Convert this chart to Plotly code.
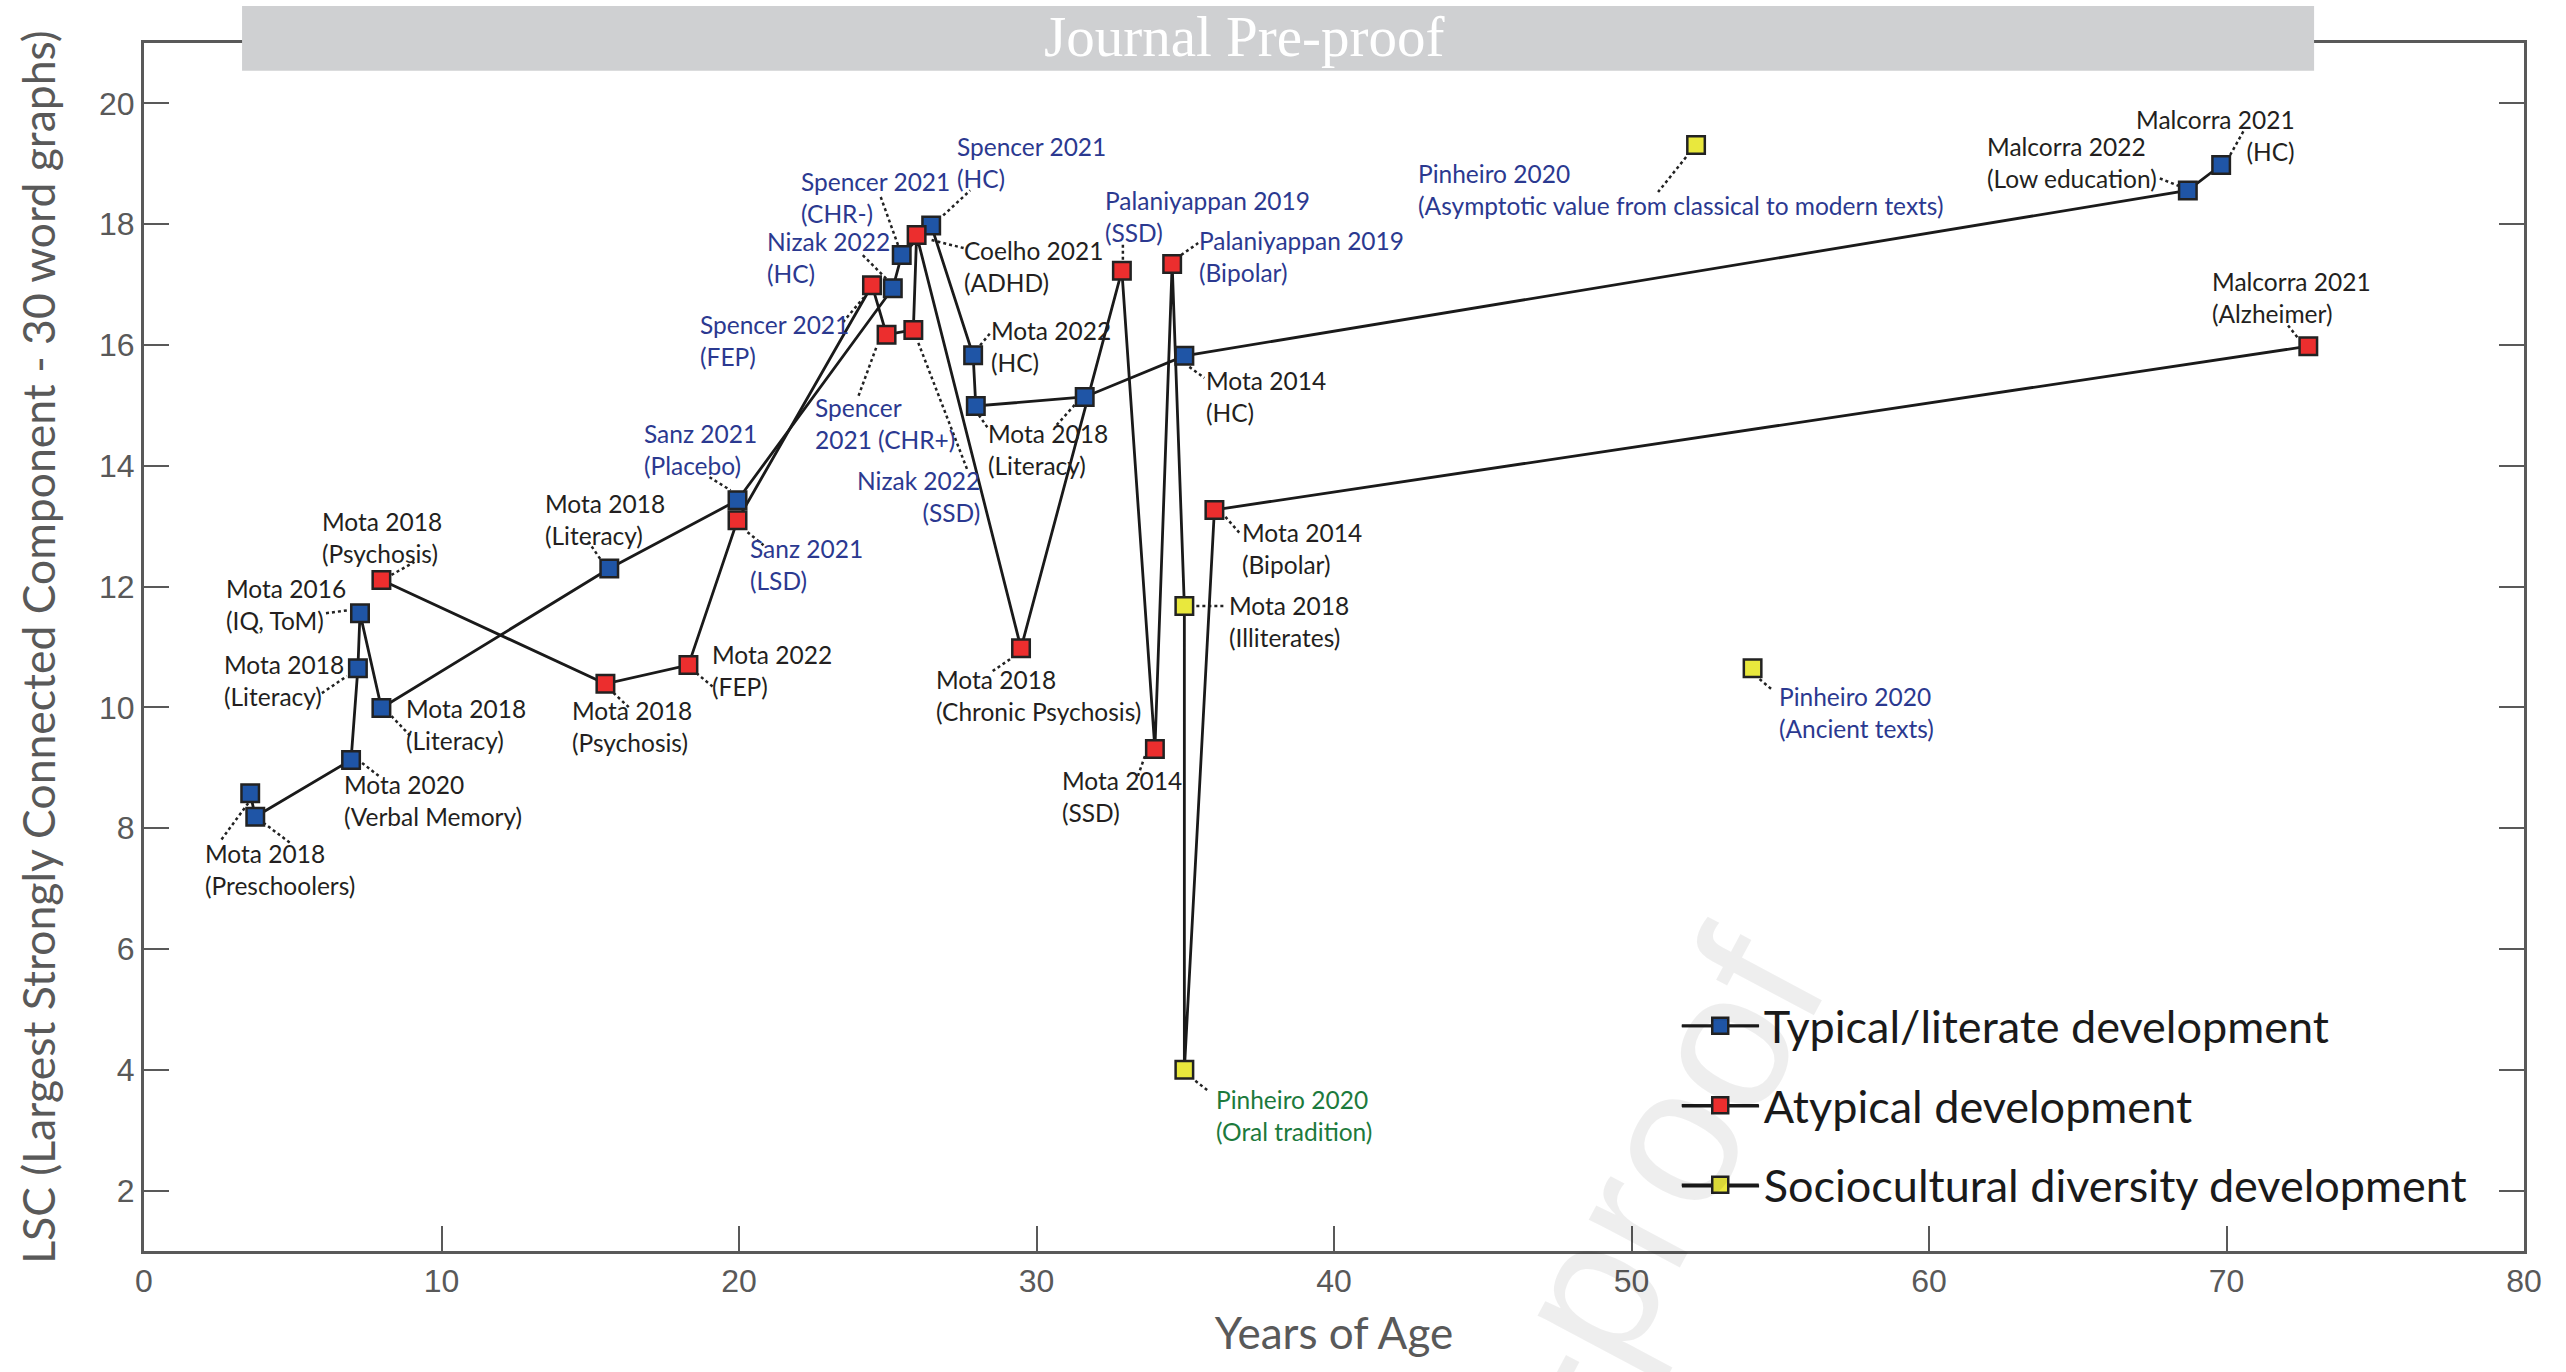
import plotly.graph_objects as go

# ---------------- data ----------------
typ_study = ["Mota 2018\n(Preschoolers)", "Mota 2018\n(Preschoolers)", "Mota 2020\n(Verbal Memory)",
             "Mota 2018\n(Literacy)", "Mota 2016\n(IQ, ToM)", "Mota 2018\n(Literacy)", "Mota 2018\n(Literacy)",
             "Sanz 2021\n(Placebo)", "Nizak 2022\n(HC)", "Spencer 2021\n(CHR-)", "Spencer 2021\n(HC)",
             "Mota 2022\n(HC)", "Mota 2018\n(Literacy)", "Mota 2018\n(Literacy)", "Mota 2014\n(HC)",
             "Malcorra 2022\n(Low education)", "Malcorra 2021\n(HC)"]
typ_age = [3.57, 3.74, 6.96, 7.19, 7.26, 7.98, 15.64, 19.95, 25.17, 25.47, 26.46, 27.87, 27.96, 31.62, 34.97, 68.70, 69.82]
typ_lsc = [8.58, 8.19, 9.13, 10.65, 11.56, 9.99, 12.30, 13.43, 16.94, 17.49, 17.98, 15.83, 14.99, 15.14, 15.82, 18.56, 18.98]

atyp_study = ["Mota 2018\n(Psychosis)", "Mota 2018\n(Psychosis)", "Mota 2022\n(FEP)", "Sanz 2021\n(LSD)",
              "Spencer 2021\n(FEP)", "Spencer\n2021 (CHR+)", "Nizak 2022\n(SSD)", "Coelho 2021\n(ADHD)",
              "Mota 2018\n(Chronic Psychosis)", "Palaniyappan 2019\n(SSD)", "Mota 2014\n(SSD)",
              "Palaniyappan 2019\n(Bipolar)", "Mota 2014\n(Bipolar)", "Malcorra 2021\n(Alzheimer)"]
atyp_age = [7.98, 15.51, 18.30, 19.95, 24.47, 24.96, 25.86, 25.97, 29.48, 32.87, 33.98, 34.56, 35.98, 72.75]
atyp_lsc = [12.11, 10.39, 10.70, 13.10, 16.99, 16.17, 16.25, 17.82, 10.98, 17.23, 9.31, 17.34, 13.27, 15.98]

soc_study = ["Mota 2018\n(Illiterates)", "Pinheiro 2020\n(Oral tradition)",
             "Pinheiro 2020\n(Asymptotic value from classical to modern texts)", "Pinheiro 2020\n(Ancient texts)"]
soc_age = [34.97, 34.97, 52.17, 54.07]
soc_lsc = [11.68, 4.00, 19.31, 10.65]

series_names = ["Typical/literate development", "Atypical development", "Sociocultural diversity development"]

# order in which the points are joined by the black lines
path_typ = [("typ", i) for i in range(17)]
path_atyp = [("atyp", i) for i in range(12)] + [("soc", 0), ("soc", 1), ("atyp", 12), ("atyp", 13)]

# label colour class per point (k = dark, b = navy, g = green)
typ_lab_col = ["k"] * 7 + ["b", "b", "b", "b"] + ["k"] * 6
atyp_lab_col = ["k", "k", "k", "b", "b", "b", "b", "k", "k", "b", "k", "b", "k", "k"]
soc_lab_col = ["k", "g", "b", "b"]

# ---------------- label placement (pixel offsets from marker; y down) ----------------
# (dx, dy, xanchor) or None when the point shares a neighbour's label
typ_lab_pos = [(-46, 47, "left"), None, (-8, 11, "left"), (-135, -17, "left"), (-135, -38, "left"),
               (24, -13, "left"), (-65, -78, "left"), (-95, -80, "left"), (-127, -60, "left"),
               (-102, -87, "left"), (25, -92, "left"), (17, -38, "left"), (11, 14, "left"), None,
               (21, 11, "left"), (-202, -57, "left"), (75, -59, "right")]
atyp_lab_pos = [(-60, -72, "left"), (-34, 13, "left"), (23, -24, "left"), (11, 15, "left"),
                (-173, 26, "left"), (-73, 59, "left"), (68, 137, "right"), (46, 2, "left"),
                (-86, 18, "left"), (-18, -84, "left"), (-94, 18, "left"), (26, -37, "left"),
                (27, 9, "left"), (-97, -78, "left")]
soc_lab_pos = [(44, -14, "left"), (31, 16, "left"), (-279, 15, "left"), (25, 15, "left")]

# dotted leader (x0, y0, x1, y1) in px from marker centre, y down
typ_lead = [(-2, 10, -30, 48), (8, 6, 36, 27), (11, 3, 29, 17), (-36, 25, -11, 8), (-34, 0, -11, -3),
            (10, 8, 29, 28), (-21, -27, -8, -8), (-28, -23, -7, -10), (-30, -33, -5, -8),
            (-21, -58, -3, -8), (12, -10, 39, -35), (7, -10, 17, -22), (3, 9, 12, 22), (-10, 8, -28, 28),
            (5, 11, 20, 22), (-28, -12, -8, -4), (9, -10, 23, -35)]
atyp_lead = [(10, -5, 33, -18), (8, 9, 24, 24), (8, 8, 26, 23), (10, 12, 26, 25), (-29, 37, -8, 12),
             (-28, 61, -10, 12), (5, 13, 54, 140), (15, 5, 47, 13), (-11, 11, -30, 24), (1, -11, 1, -29),
             (-10, 7, -17, 27), (9, -9, 26, -21), (11, 7, 25, 23), (-11, -9, -22, -23)]
soc_lead = [(12, 0, 41, 0), (11, 11, 25, 22), (-10, 12, -38, 47), (7, 11, 20, 22)]

# ---------------- styles ----------------
COL = {"typ": "#1f55a6", "atyp": "#ec2e2e", "soc": "#e9e83d"}
LABCOL = {"k": "#231f20", "b": "#2b3990", "g": "#1c7a3c"}
LINE_COL = "#1a1a1a"
AX_COL = "#595959"
LAB_FONT = "Lato"
LAB_SIZE = 24.5
LAB_LIFT = 2

data = {
    "typ": (typ_age, typ_lsc, typ_study, typ_lab_col, typ_lab_pos, typ_lead),
    "atyp": (atyp_age, atyp_lsc, atyp_study, atyp_lab_col, atyp_lab_pos, atyp_lead),
    "soc": (soc_age, soc_lsc, soc_study, soc_lab_col, soc_lab_pos, soc_lead),
}

fig = go.Figure()

# connecting lines
for path in (path_typ, path_atyp):
    fig.add_trace(go.Scatter(
        x=[data[s][0][i] for s, i in path], y=[data[s][1][i] for s, i in path],
        mode="lines", line=dict(color=LINE_COL, width=2.8), showlegend=False, hoverinfo="skip"))

# markers
for key in ("typ", "atyp", "soc"):
    xs, ys, names = data[key][0], data[key][1], data[key][2]
    fig.add_trace(go.Scatter(
        x=xs, y=ys, mode="markers", showlegend=False,
        text=[n.replace("\n", " ") for n in names], hoverinfo="text+x+y",
        marker=dict(symbol="square", size=17.5, color=COL[key], line=dict(color="#222222", width=2.5))))

# legend-only entries
for key, nm in zip(("typ", "atyp", "soc"), series_names):
    fig.add_trace(go.Scatter(
        x=[None], y=[None], mode="lines+markers", name=nm, legendgroup=key,
        line=dict(color=LINE_COL, width=2.8),
        marker=dict(symbol="square", size=17.5, color=COL[key], line=dict(color="#222222", width=2.5))))

# labels and dotted leaders
annotations = []
shapes = []
for key in ("typ", "atyp", "soc"):
    xs, ys, names, cols, poss, leads = data[key]
    for x, y, nm, c, pos, ld in zip(xs, ys, names, cols, poss, leads):
        if pos is not None:
            dx, dy, xa = pos
            annotations.append(dict(
                x=x, y=y, xref="x", yref="y", text=nm.replace("\n", "<br>"), showarrow=False,
                xanchor=xa, yanchor="top", align=xa, xshift=dx, yshift=-dy + LAB_LIFT, borderpad=0,
                font=dict(family=LAB_FONT, size=LAB_SIZE, color=LABCOL[c])))
        x0, y0, x1, y1 = ld
        shapes.append(dict(
            type="line", xref="x", yref="y", xsizemode="pixel", ysizemode="pixel",
            xanchor=x, yanchor=y, x0=x0, x1=x1, y0=-y0, y1=-y1, layer="below",
            line=dict(color="#222222", width=2.5, dash="dot")))

# longer legend key lines (the legend symbols of the reference are wider than plotly's)
for yrow in (0.1863, 0.1200, 0.0538):
    shapes.append(dict(type="line", xref="paper", yref="paper", x0=0.6462, x1=0.6786, y0=yrow, y1=yrow,
                       line=dict(color=LINE_COL, width=2.8), layer="above"))

# "Journal Pre-proof" banner and faint watermark
shapes.append(dict(type="rect", xref="paper", yref="paper", x0=0.0412, x1=0.9118, y0=0.9771, y1=1.0306,
                   fillcolor="#cfd0d2", line=dict(width=0), layer="above"))
annotations.insert(0, dict(x=0.535, y=-0.302, xref="paper", yref="paper", text="Journal Pre-proof",
                           showarrow=False, xanchor="center", yanchor="middle", textangle=-62,
                           font=dict(family="Liberation Sans", size=195, color="rgba(0,0,0,0.065)")))
annotations.append(dict(x=0.462, y=1.005, xref="paper", yref="paper", text="Journal Pre-proof",
                        showarrow=False, xanchor="center", yanchor="middle",
                        font=dict(family="Liberation Serif", size=57, color="white")))

axis_common = dict(
    showline=True, linewidth=3, linecolor=AX_COL, mirror="ticks", ticks="inside", ticklen=25,
    tickwidth=2, tickcolor=AX_COL, showgrid=False, zeroline=False,
    tickfont=dict(family="Liberation Sans", size=32, color=AX_COL))

fig.update_layout(
    width=2566, height=1372, margin=dict(l=144, r=42, t=43, b=121),
    paper_bgcolor="white", plot_bgcolor="white",
    xaxis=dict(range=[0, 80], dtick=10, tick0=0,
               title=dict(text="Years of Age", font=dict(family=LAB_FONT, size=44, color=AX_COL), standoff=20),
               **axis_common),
    yaxis=dict(range=[1, 21], tickvals=[2, 4, 6, 8, 10, 12, 14, 16, 18, 20],
               title=dict(text="LSC (Largest Strongly Connected Component - 30 word graphs)",
                          font=dict(family=LAB_FONT, size=44.5, color=AX_COL), standoff=30),
               **axis_common),
    legend=dict(x=0.644, y=0.216, xanchor="left", yanchor="top", bgcolor="rgba(0,0,0,0)",
                font=dict(family=LAB_FONT, size=45, color="#1a1a1a"), tracegroupgap=18, itemwidth=77),
    annotations=annotations, shapes=shapes, showlegend=True,
)

fig.write_html("out.html", config={"displayModeBar": False},
               post_script="document.body.style.margin='0';document.body.style.overflow='hidden';")
